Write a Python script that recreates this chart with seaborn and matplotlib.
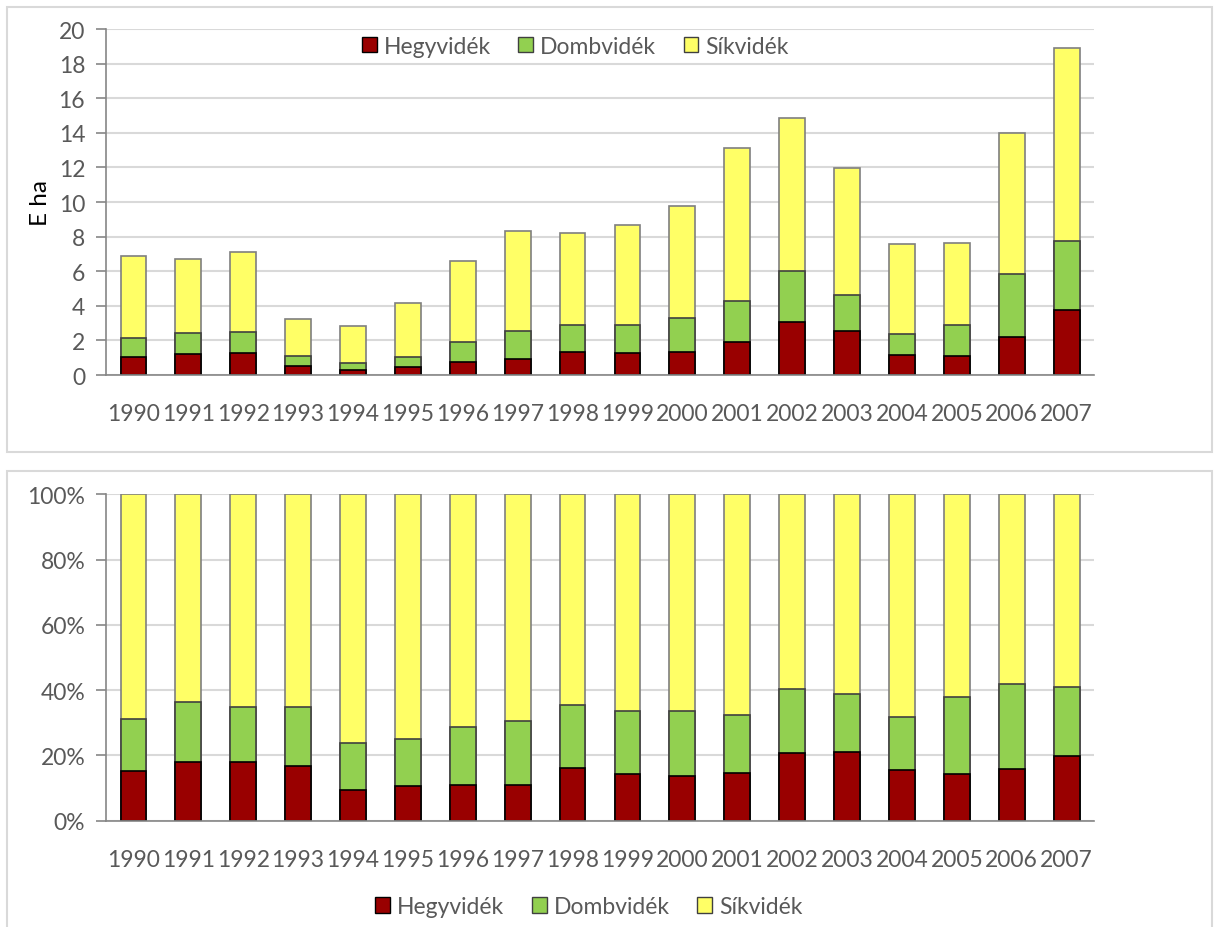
import numpy as np
import pandas as pd
import matplotlib.pyplot as plt
from matplotlib.patches import Patch, Rectangle
from matplotlib.ticker import MultipleLocator, PercentFormatter
import seaborn as sns

years = [str(y) for y in range(1990, 2008)]
# E ha per region
hegyvidek = [1.04, 1.21, 1.29, 0.54, 0.27, 0.44, 0.73, 0.92, 1.33, 1.25,
             1.35, 1.93, 3.08, 2.54, 1.17, 1.10, 2.22, 3.74]
dombvidek = [1.10, 1.22, 1.18, 0.58, 0.41, 0.60, 1.16, 1.61, 1.58, 1.66,
             1.94, 2.33, 2.91, 2.10, 1.22, 1.79, 3.62, 4.01]
sikvidek = [4.72, 4.26, 4.64, 2.10, 2.17, 3.12, 4.70, 5.78, 5.28, 5.78,
            6.50, 8.86, 8.85, 7.34, 5.16, 4.76, 8.13, 11.17]
labels = ["Hegyvidék", "Dombvidék", "Síkvidék"]

RED, GREEN, YELLOW = "#990000", "#92D050", "#FFFF66"
GRAY = "#868686"
TXT = "#595959"

sns.set_style("white")
plt.rcParams["font.family"] = ["Lato", "DejaVu Sans"]
FS = 16.5

df = pd.DataFrame({"year": years, "h": hegyvidek, "d": dombvidek, "s": sikvidek})
df["c1"] = df["h"]
df["c2"] = df["h"] + df["d"]
df["c3"] = df["c2"] + df["s"]
tot = df["c3"]
df["p1"] = df["c1"] / tot
df["p2"] = df["c2"] / tot
df["p3"] = df["c3"] / tot


def stacked(ax, cols):
    # tallest first, then overlay the lower stacks
    sns.barplot(data=df, x="year", y=cols[2], color=YELLOW, saturation=1, width=0.47,
                edgecolor="#7F7F7F", linewidth=1.2, errorbar=None, ax=ax)
    sns.barplot(data=df, x="year", y=cols[1], color=GREEN, saturation=1, width=0.47,
                edgecolor="#404040", linewidth=1.2, errorbar=None, ax=ax)
    sns.barplot(data=df, x="year", y=cols[0], color=RED, saturation=1, width=0.47,
                edgecolor="black", linewidth=1.2, errorbar=None, ax=ax)
    ax.set_xlim(-0.5, len(years) - 0.5)
    ax.set_axisbelow(True)
    ax.yaxis.grid(True, color="#D9D9D9", lw=1.5)
    ax.xaxis.grid(False)
    for s in ["top", "right"]:
        ax.spines[s].set_visible(False)
    for s in ["left", "bottom"]:
        ax.spines[s].set_color(GRAY)
        ax.spines[s].set_linewidth(1.2)
    ax.set_xlabel("")
    ax.set_ylabel("")
    ax.set_xticks(np.arange(-0.5, len(years)), minor=True)
    ax.tick_params(axis="x", which="major", length=0, pad=20, labelsize=FS, labelcolor=TXT)
    ax.tick_params(axis="x", which="minor", length=8, width=1.2, color=GRAY)
    ax.tick_params(axis="y", length=7, width=1.2, color=GRAY, pad=8, labelsize=FS,
                   labelcolor=TXT, left=True)


handles = [Patch(facecolor=RED, edgecolor="black"),
           Patch(facecolor=GREEN, edgecolor="#404040"),
           Patch(facecolor=YELLOW, edgecolor="#404040")]

fig = plt.figure(figsize=(12.14, 9.28), dpi=100)

ax1 = fig.add_axes([0.0873, 0.5948, 0.8139, 0.3728])
stacked(ax1, ["c1", "c2", "c3"])
ax1.set_ylim(0, 20)
ax1.yaxis.set_major_locator(MultipleLocator(2))
ax1.set_ylabel("E ha", fontsize=FS + 1, color="black")
ax1.yaxis.set_label_coords(-0.056, 0.5)
ax1.legend(handles, labels, loc="center", bbox_to_anchor=(0.475, 0.951), ncol=3,
           frameon=False, fontsize=FS, labelcolor=TXT, handlelength=0.65,
           handleheight=0.65, handletextpad=0.3, columnspacing=1.2)

ax2 = fig.add_axes([0.0873, 0.1145, 0.8139, 0.3518])
stacked(ax2, ["p1", "p2", "p3"])
ax2.set_ylim(0, 1)
ax2.yaxis.set_major_locator(MultipleLocator(0.2))
ax2.yaxis.set_major_formatter(PercentFormatter(1.0, decimals=0))
fig.legend(handles, labels, loc="center", bbox_to_anchor=(0.485, 0.022), ncol=3,
           frameon=False, fontsize=FS, labelcolor=TXT, handlelength=0.65,
           handleheight=0.65, handletextpad=0.3, columnspacing=1.2)

# chart area frames
W, H = 1214, 928
fig.patches.append(Rectangle((7 / W, 1 - 453 / H), 1205 / W, 445 / H, transform=fig.transFigure,
                             fill=False, edgecolor="#D9D9D9", lw=1.5))
fig.patches.append(Rectangle((7 / W, -0.05), 1205 / W, 1 - 472 / H + 0.05, transform=fig.transFigure,
                             fill=False, edgecolor="#D9D9D9", lw=1.5))

fig.savefig("out.png", dpi=100)
